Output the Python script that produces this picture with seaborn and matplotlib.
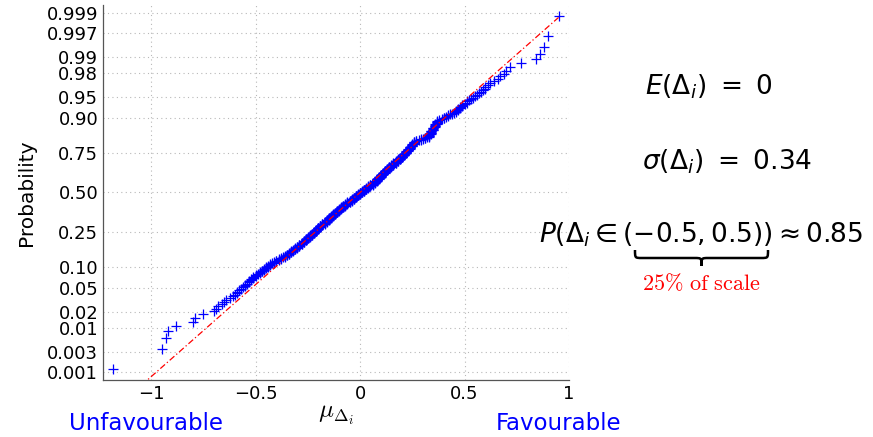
import numpy as np
import seaborn as sns
import matplotlib
matplotlib.use('Agg')
import matplotlib.pyplot as plt
from matplotlib.path import Path
from matplotlib.patches import PathPatch
from statistics import NormalDist

# sorted deltas, grouped to 0.01 (value, how many at that value)
delta_value = [-1.18, -0.95, -0.93, -0.92, -0.88, -0.80, -0.79, -0.75, -0.70, -0.69, -0.68, -0.66,
               -0.65, -0.64, -0.62, -0.61,
               -0.60, -0.59, -0.58, -0.57, -0.56, -0.55, -0.54,
               -0.53, -0.52, -0.51, -0.50, -0.49, -0.48, -0.47, -0.46, -0.45,
               -0.44, -0.43, -0.42, -0.41, -0.40, -0.39, -0.38, -0.37, -0.36, -0.35,
               -0.34, -0.33, -0.32, -0.31, -0.30,
               -0.29, -0.28, -0.27, -0.26, -0.25, -0.24, -0.23, -0.22,
               -0.21, -0.20, -0.19, -0.18, -0.17, -0.16, -0.15, -0.14,
               -0.13, -0.12, -0.11, -0.10, -0.09, -0.08, -0.07, -0.06, -0.05, -0.04, -0.03, -0.02, -0.01, 0.00,
               0.01, 0.02, 0.03, 0.04, 0.05,
               0.06, 0.07, 0.08, 0.09, 0.10, 0.11, 0.12,
               0.13, 0.14, 0.15, 0.16, 0.17, 0.18, 0.19, 0.20, 0.21,
               0.22, 0.23, 0.24, 0.25, 0.26,
               0.27, 0.28, 0.29, 0.30, 0.31, 0.32,
               0.33, 0.34, 0.35, 0.36, 0.37,
               0.38, 0.39, 0.40, 0.41, 0.42, 0.43, 0.44,
               0.45, 0.46, 0.47, 0.48, 0.49, 0.50, 0.51, 0.52, 0.53, 0.54, 0.55, 0.56, 0.57, 0.58, 0.59,
               0.60, 0.61, 0.62, 0.64, 0.66, 0.67, 0.69, 0.70, 0.72, 0.77, 0.84, 0.86, 0.88, 0.90, 0.95]
delta_count = [1, 1, 1, 1, 1, 1, 1, 1, 1, 1, 1, 1,
               1, 1, 1, 1,
               1, 2, 1, 1, 1, 2, 1,
               2, 2, 2, 2, 1, 2, 2, 2, 2,
               2, 2, 1, 2, 2, 2, 2, 1, 2, 2,
               3, 3, 2, 3, 3,
               4, 4, 4, 4, 3, 4, 4, 4,
               5, 5, 5, 4, 5, 5, 5, 5,
               5, 4, 5, 5, 5, 4, 5, 5, 4, 5, 5, 5, 4, 5,
               4, 5, 4, 5, 4,
               6, 5, 6, 6, 6, 5, 6,
               5, 5, 4, 5, 5, 5, 4, 5, 5,
               5, 5, 5, 5, 5,
               2, 1, 2, 1, 2, 1,
               5, 6, 5, 5, 5,
               1, 1, 2, 1, 2, 1, 1,
               1, 2, 2, 2, 2, 1, 2, 1, 1, 1, 1, 1, 1, 1, 1,
               2, 1, 1, 1, 1, 1, 1, 1, 1, 1, 1, 1, 1, 1, 1]

y_ticks = [0.001, 0.003, 0.01, 0.02, 0.05, 0.10, 0.25, 0.50, 0.75, 0.90, 0.95, 0.98, 0.99, 0.997, 0.999]
y_ticklabels = ['0.001', '0.003', '0.01', '0.02', '0.05', '0.10', '0.25', '0.50', '0.75', '0.90',
                '0.95', '0.98', '0.99', '0.997', '0.999']
x_ticks = [-1, -0.5, 0, 0.5, 1]
x_ticklabels = ['\u22121', '\u22120.5', '0', '0.5', '1']

W, H = 873, 437

# normal probability scale
nd = NormalDist()
probit = np.vectorize(lambda p: nd.inv_cdf(min(max(p, 1e-12), 1 - 1e-12)), otypes=[float])
cdf = np.vectorize(nd.cdf, otypes=[float])

delta = np.repeat(delta_value, delta_count)
n = len(delta)
prob = (np.arange(1, n + 1) - 0.5) / n

# reference line through the quartiles, like normplot
q1, q3 = np.percentile(delta, [25, 75])
z1, z3 = probit(0.25), probit(0.75)
slope = (z3 - z1) / (q3 - q1)
line_x = np.array([delta.min(), delta.max()])
line_p = cdf(z1 + slope * (line_x - q1))

sns.set_style('white')
plt.rcParams['font.family'] = ['DejaVu Sans']
plt.rcParams['mathtext.fontset'] = 'dejavusans'
plt.rcParams['text.color'] = 'black'
plt.rcParams['axes.labelcolor'] = 'black'

fig = plt.figure(figsize=(W / 100, H / 100), dpi=100)
ax = fig.add_axes([103 / W, 1 - 380 / H, (569 - 103) / W, (380 - 5) / H])
ax.set_yscale('function', functions=(probit, cdf))

sns.scatterplot(x=delta, y=prob, ax=ax, marker='+', color='#0000ff', s=55, linewidth=0.9, zorder=3)
sns.lineplot(x=line_x, y=line_p, ax=ax, color='#ff0000', linewidth=0.9,
             linestyle=(0, (5, 2, 1, 2)), zorder=4)

ax.set_xlim(-1.23, 1.0)
ax.set_ylim(nd.cdf(-3.23), nd.cdf(3.23))
ax.set_yticks(y_ticks)
ax.set_yticklabels(y_ticklabels)
ax.minorticks_off()
ax.set_xticks(x_ticks)
ax.set_xticklabels(x_ticklabels)
ax.tick_params(direction='in', length=4, width=0.8, colors='#555555', labelcolor='black', labelsize=13)
ax.grid(True, linestyle=(0, (1, 3)), linewidth=0.8, color='#b8b8b8')
for side in ['top', 'right']:
    ax.spines[side].set_visible(False)
for side in ['left', 'bottom']:
    ax.spines[side].set_color('#555555')
    ax.spines[side].set_linewidth(0.9)

ax.set_ylabel('Probability', fontsize=14.5, labelpad=8)
ax.set_xlabel(r'$\mu_{\Delta_i}$', fontsize=18, labelpad=0, math_fontfamily='cm')


def px(x, y):
    return x / W, 1 - y / H


fig.text(*px(146, 424), 'Unfavourable', color='#0000ff', fontsize=16.5, ha='center', va='center')
fig.text(*px(559, 424), 'Favourable', color='#0000ff', fontsize=16.5, ha='center', va='center')

fig.text(*px(709, 87), r'$E(\Delta_i)\ =\ 0$', fontsize=19, ha='center', va='center')
fig.text(*px(727, 162), r'$\sigma(\Delta_i)\ =\ 0.34$', fontsize=19, ha='center', va='center')
fig.text(*px(701, 235), r'$P(\Delta_i \in (-0.5, 0.5)) \approx 0.85$', fontsize=19, ha='center', va='center')
fig.text(*px(701, 283), r'$\mathrm{25\%\ of\ scale}$', color='#ff0000', fontsize=16,
         ha='center', va='center', math_fontfamily='cm')

# curly brace under (-0.5, 0.5)
x0, x1, xm = 635, 768, 701.5
ytop, ymid, ytip, q = 250, 258, 266, 7
brace = [(x0, ytop), (x0, ymid), (x0, ymid), (x0 + q, ymid),
         (xm - q, ymid), (xm, ymid), (xm, ymid), (xm, ytip),
         (xm, ymid), (xm, ymid), (xm + q, ymid),
         (x1 - q, ymid), (x1, ymid), (x1, ymid), (x1, ytop)]
codes = [Path.MOVETO, Path.CURVE4, Path.CURVE4, Path.CURVE4,
         Path.LINETO, Path.CURVE4, Path.CURVE4, Path.CURVE4,
         Path.CURVE4, Path.CURVE4, Path.CURVE4,
         Path.LINETO, Path.CURVE4, Path.CURVE4, Path.CURVE4]
fig.patches.append(PathPatch(Path([px(*p) for p in brace], codes), transform=fig.transFigure,
                             facecolor='none', edgecolor='black', linewidth=1.8))

fig.savefig('out.png', dpi=100)
